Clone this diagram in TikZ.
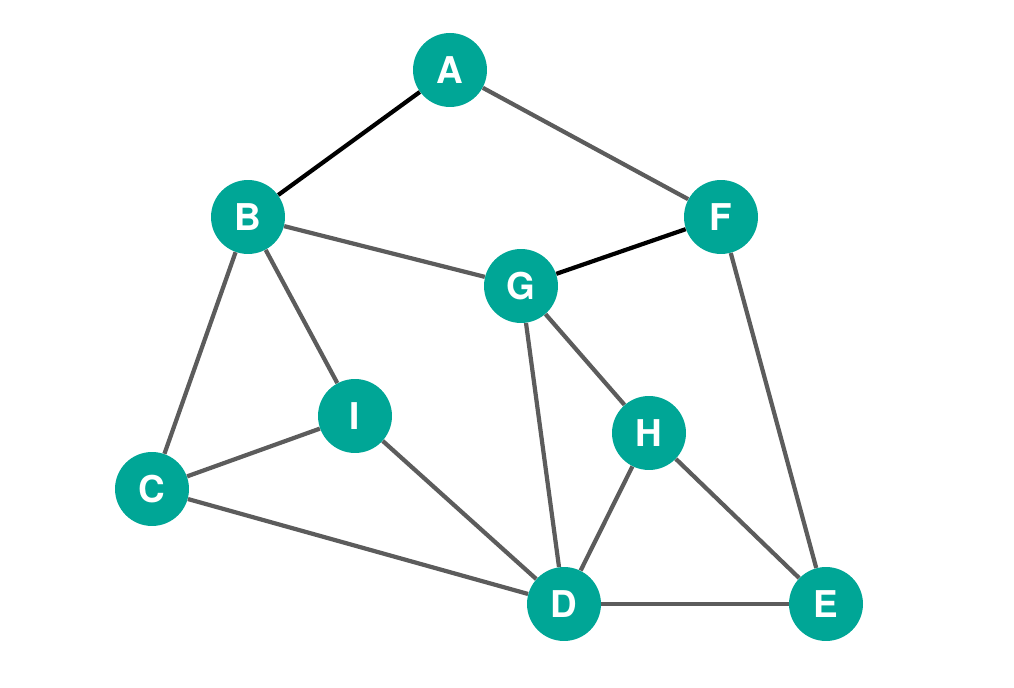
\documentclass[tikz,border=0pt]{standalone}
\usepackage{fontspec}
\setmainfont{TeX Gyre Heros}
\usepackage{tikz}
\usetikzlibrary{positioning}
\usepackage{xcolor}
\definecolor{tealnode}{RGB}{0,166,150}
\definecolor{edgegray}{RGB}{92,92,92}

\begin{document}
\begin{tikzpicture}[
    x=0.02cm, y=-0.02cm,
    every node/.style={font=\fontsize{21}{24}\selectfont\bfseries, align=center},
    vertex/.style={circle, fill=tealnode, text=white, minimum size=1.48cm, inner sep=0pt},
    grayEdge/.style={draw=edgegray, line width=2.4pt},
    darkEdge/.style={draw=black, line width=2.4pt}
]
    \useasboundingbox (0,0) rectangle (1014,688);

    \node [vertex] (a) at (450, 70) {A};
    \node [vertex] (b) at (248, 217) {B};
    \node [vertex] (f) at (721, 217) {F};
    \node [vertex] (g) at (521, 286) {G};
    \node [vertex] (i) at (355, 416) {I};
    \node [vertex] (h) at (649, 433) {H};
    \node [vertex] (c) at (152, 489) {C};
    \node [vertex] (d) at (564, 604) {D};
    \node [vertex] (e) at (826, 604) {E};

    \path [darkEdge] (a) -- (b);
    \path [darkEdge] (g) -- (f);
    \path [grayEdge] (a) -- (f);
    \path [grayEdge] (b) -- (g);
    \path [grayEdge] (b) -- (c);
    \path [grayEdge] (b) -- (i);
    \path [grayEdge] (g) -- (d);
    \path [grayEdge] (g) -- (h);
    \path [grayEdge] (f) -- (e);
    \path [grayEdge] (i) -- (c);
    \path [grayEdge] (i) -- (d);
    \path [grayEdge] (c) -- (d);
    \path [grayEdge] (h) -- (d);
    \path [grayEdge] (h) -- (e);
    \path [grayEdge] (d) -- (e);
\end{tikzpicture}
\end{document}
